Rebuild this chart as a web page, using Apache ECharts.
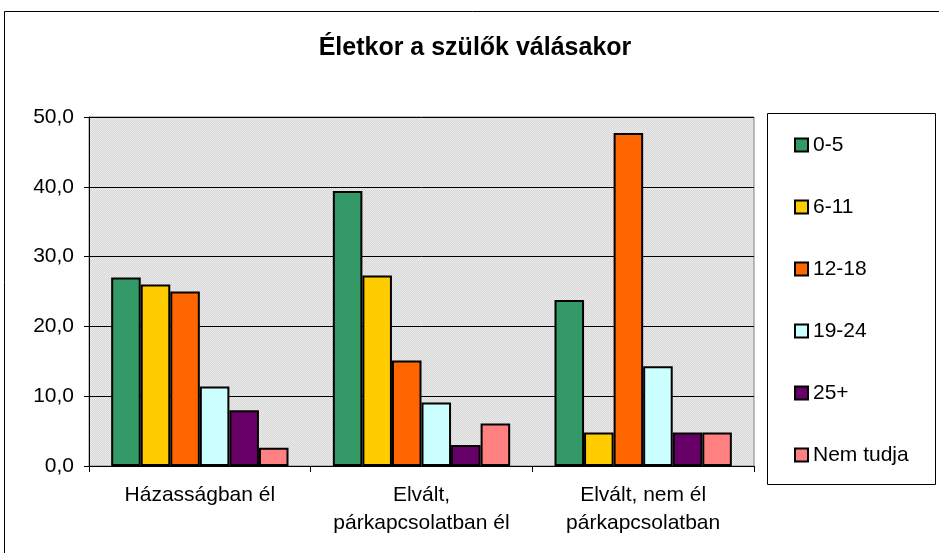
<!DOCTYPE html>
<html>
<head>
<meta charset="utf-8">
<script src="https://cdn.jsdelivr.net/npm/echarts@6/dist/echarts.min.js"></script>
<style>
  html, body { margin: 0; padding: 0; background: #fff; }
  #app { width: 939px; height: 553px; }
</style>
</head>
<body>
<div id="app"></div>
<script>
var categories = ['Házasságban él', 'Elvált,\npárkapcsolatban él', 'Elvált, nem él\npárkapcsolatban'];
var seriesNames = ['0-5', '6-11', '12-18', '19-24', '25+', 'Nem tudja'];
var colors = ['#339966', '#ffcc00', '#ff6600', '#ccffff', '#660066', '#ff8080'];

var age0_5 = [27.0, 39.4, 23.8];
var age6_11 = [26.0, 27.3, 4.8];
var age12_18 = [25.0, 15.1, 47.7];
var age19_24 = [11.4, 9.1, 14.3];
var age25plus = [8.0, 3.0, 4.8];
var nemTudja = [2.6, 6.1, 4.8];
var yTicks = [0, 10, 20, 30, 40, 50];

var values = [age0_5, age6_11, age12_18, age19_24, age25plus, nemTudja];
var font = 'Liberation Sans';

// small checker pattern for the plot area like the Excel fill
var pat = document.createElement('canvas');
pat.width = 2; pat.height = 2;
var pctx = pat.getContext('2d');
pctx.fillStyle = '#d6d6d6'; pctx.fillRect(0, 0, 2, 2);
pctx.fillStyle = '#ececec'; pctx.fillRect(0, 0, 1, 1); pctx.fillRect(1, 1, 1, 1);

var myChart = echarts.init(document.getElementById('app'));

var series = [];
for (var i = 0; i < seriesNames.length; i++) {
  series.push({
    name: seriesNames[i],
    type: 'bar',
    data: values[i],
    barGap: '0%',
    barCategoryGap: '20%',
    itemStyle: {
      color: colors[i],
      borderColor: '#000',
      borderWidth: 2
    }
  });
}

myChart.setOption({
  backgroundColor: '#fff',
  animation: false,
  textStyle: { fontFamily: font },
  title: {
    text: 'Életkor a szülők válásakor',
    left: 470,
    top: 31,
    textAlign: 'center',
    textStyle: { fontSize: 25, fontWeight: 'bold', color: '#000', fontFamily: font }
  },
  graphic: [{
    type: 'rect',
    shape: { x: 4.5, y: 11.5, width: 940, height: 550 },
    style: { fill: 'none', stroke: '#000', lineWidth: 1 },
    z: -1
  }, {
    type: 'rect',
    shape: { x: 767.5, y: 113.5, width: 168, height: 371 },
    style: { fill: '#fff', stroke: '#000', lineWidth: 1 },
    z: -1
  }],
  legend: {
    orient: 'vertical',
    left: 794,
    top: 134,
    padding: 0,
    itemGap: 40,
    itemWidth: 13,
    itemHeight: 13,
    icon: 'rect',
    data: seriesNames,
    textStyle: { fontSize: 21, lineHeight: 22, color: '#000', fontFamily: font }
  },
  grid: {
    left: 89,
    right: 185,
    top: 117,
    bottom: 87,
    show: true,
    backgroundColor: { image: pat, repeat: 'repeat' },
    borderColor: '#808080',
    borderWidth: 1
  },
  xAxis: {
    type: 'category',
    data: categories,
    axisLine: { lineStyle: { color: '#000', width: 1 } },
    axisTick: { show: true, length: 6, lineStyle: { color: '#000' } },
    axisLabel: {
      interval: 0, hideOverlap: false,
      fontSize: 21, color: '#000', margin: 15, lineHeight: 28, fontFamily: font
    }
  },
  yAxis: {
    type: 'value',
    min: yTicks[0],
    max: yTicks[yTicks.length - 1],
    interval: 10,
    axisLine: { show: true, lineStyle: { color: '#000' } },
    axisTick: { show: true, length: 5, lineStyle: { color: '#000' } },
    splitLine: { show: true, lineStyle: { color: '#000', width: 1 } },
    axisLabel: {
      fontSize: 21, color: '#000', margin: 15, fontFamily: font,
      formatter: function (v) { return v.toFixed(1).replace('.', ','); }
    }
  },
  series: series
});
</script>
</body>
</html>
